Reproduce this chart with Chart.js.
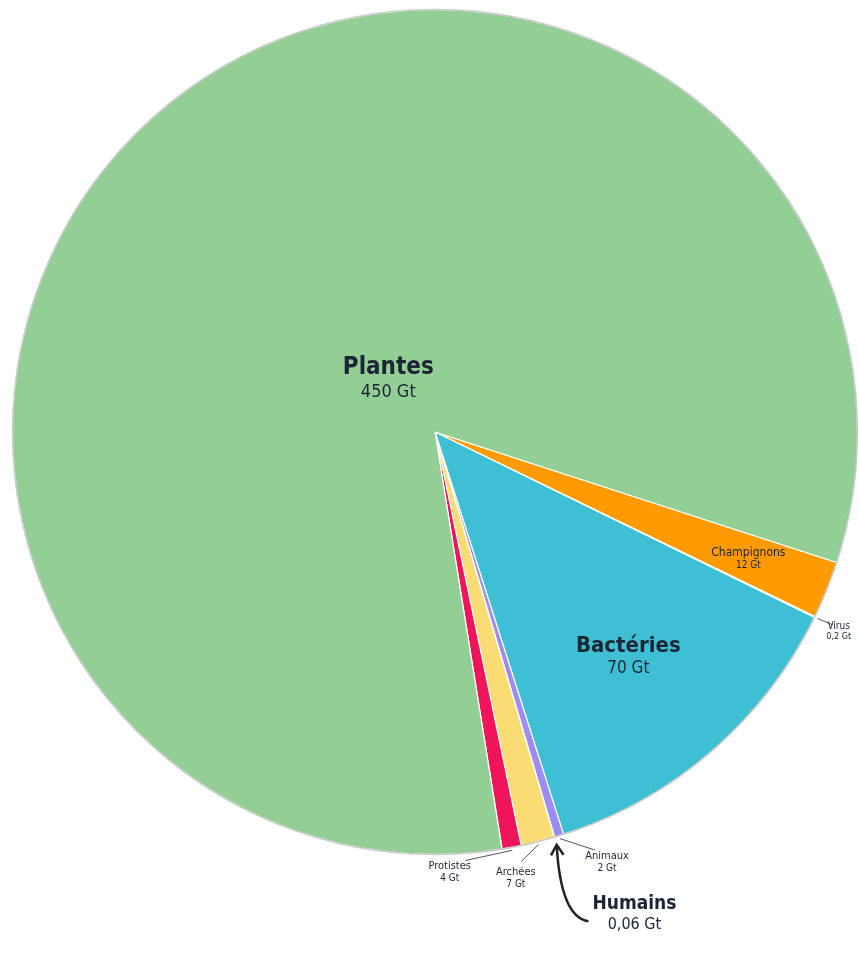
<!DOCTYPE html>
<html lang="fr">
<head>
<meta charset="utf-8">
<title>Biomasse sur Terre</title>
<script src="https://cdn.jsdelivr.net/npm/chart.js@4/dist/chart.umd.min.js"></script>
<style>
  body { margin: 0; background: #fff; }
  #wrap { width: 859px; height: 956px; position: relative; }
</style>
</head>
<body>
<div id="wrap"><canvas id="biomasse"></canvas></div>
<script>
// biomasse (gigatonnes de carbone), sens horaire
const categories = ['Champignons', 'Virus', 'Bactéries', 'Animaux', 'Humains', 'Archées', 'Protistes', 'Plantes'];
const biomassGt = [12, 0.2, 70, 1.94, 0.06, 7, 4, 450];   // Animaux hors humains = 2 - 0,06
const shownGt = [12, 0.2, 70, 2, 0.06, 7, 4, 450];
const colors = ['#ff9a00', '#f4f4d8', '#3ebfd4', '#9c8cf6', '#f0145a', '#f9dc72', '#f0145a', '#93cf95'];

const FONT = '"DejaVu Sans Condensed", "Liberation Sans Narrow", Roboto, sans-serif';
const INK = '#1b2535';

// how each label is placed
const labelStyle = {
  'Plantes':     { mode: 'in', r: 0.17, size: 24, sub: 18, weight: 'bold' },
  'Bactéries':   { mode: 'in', r: 0.7, size: 22, sub: 17, weight: 'bold' },
  'Champignons': { mode: 'in', r: 0.8, size: 12, sub: 10, weight: 'normal' },
  'Virus':       { mode: 'out', dx: 24, dy: 14, size: 10, sub: 9, weight: 'normal' },
  'Animaux':     { mode: 'out', dx: 48, dy: 26, size: 11, sub: 10, weight: 'normal' },
  'Archées':     { mode: 'out', dx: -22, dy: 36, size: 11, sub: 10, weight: 'normal' },
  'Protistes':   { mode: 'out', dx: -62, dy: 24, size: 11, sub: 10, weight: 'normal' },
  'Humains':     { mode: 'arrow', dx: 80, dy: 76, size: 19, sub: 16, weight: 'bold' }
};

function fmt(v) {
  return v.toLocaleString('fr-FR') + ' Gt';
}

function twoLines(ctx, x, y, name, value, st) {
  ctx.textAlign = 'center';
  ctx.textBaseline = 'middle';
  ctx.fillStyle = INK;
  ctx.font = st.weight + ' ' + st.size + 'px ' + FONT;
  ctx.fillText(name, x, y - st.sub * 0.55);
  ctx.font = st.sub + 'px ' + FONT;
  ctx.fillText(value, x, y + st.size * 0.6);
}

const labelPlugin = {
  id: 'biomassLabels',
  afterDatasetsDraw(chart) {
    const ctx = chart.ctx;
    const arcs = chart.getDatasetMeta(0).data;
    ctx.save();

    // outline of the disc
    const a0 = arcs[0];
    ctx.beginPath();
    ctx.arc(a0.x, a0.y, a0.outerRadius, 0, Math.PI * 2);
    ctx.strokeStyle = '#c9c9c9';
    ctx.lineWidth = 1.5;
    ctx.stroke();

    arcs.forEach((arc, i) => {
      const name = categories[i];
      const st = labelStyle[name];
      const mid = (arc.startAngle + arc.endAngle) / 2;
      const cx = arc.x, cy = arc.y, R = arc.outerRadius;
      const rimX = cx + Math.cos(mid) * R;
      const rimY = cy + Math.sin(mid) * R;
      const text = fmt(shownGt[i]);

      if (st.mode === 'in') {
        twoLines(ctx, cx + Math.cos(mid) * R * st.r, cy + Math.sin(mid) * R * st.r, name, text, st);
      } else if (st.mode === 'out') {
        const lx = rimX + st.dx, ly = rimY + st.dy;
        ctx.beginPath();
        ctx.moveTo(rimX + Math.cos(mid) * 3, rimY + Math.sin(mid) * 3);
        ctx.lineTo(lx - st.dx * 0.25, ly - st.dy * 0.45);
        ctx.strokeStyle = '#555';
        ctx.lineWidth = 1;
        ctx.stroke();
        twoLines(ctx, lx, ly, name, text, st);
      } else {
        // curved arrow for Humains
        const lx = rimX + st.dx, ly = rimY + st.dy;
        const ex = rimX + Math.cos(mid) * 8, ey = rimY + Math.sin(mid) * 8;
        const sx = lx - 46, sy = ly + 8;
        const qx = ex + 4, qy = sy - 4;
        ctx.beginPath();
        ctx.moveTo(sx, sy);
        ctx.quadraticCurveTo(qx, qy, ex, ey);
        ctx.strokeStyle = '#222';
        ctx.lineWidth = 2.5;
        ctx.stroke();
        const ang = Math.atan2(ey - qy, ex - qx);
        ctx.beginPath();
        ctx.moveTo(ex - Math.cos(ang - 0.55) * 12, ey - Math.sin(ang - 0.55) * 12);
        ctx.lineTo(ex, ey);
        ctx.lineTo(ex - Math.cos(ang + 0.55) * 12, ey - Math.sin(ang + 0.55) * 12);
        ctx.stroke();
        twoLines(ctx, lx, ly, name, text, st);
      }
    });
    ctx.restore();
  }
};

new Chart(document.getElementById('biomasse'), {
  type: 'pie',
  data: {
    labels: categories,
    datasets: [{
      data: biomassGt,
      backgroundColor: colors,
      borderColor: '#ffffff',
      borderWidth: 1.2,
      hoverOffset: 0
    }]
  },
  options: {
    responsive: true,
    maintainAspectRatio: false,
    animation: false,
    rotation: 108,
    layout: { padding: { left: 12, right: 1, top: 9, bottom: 101 } },
    plugins: {
      legend: { display: false },
      tooltip: { enabled: false }
    }
  },
  plugins: [labelPlugin]
});
</script>
</body>
</html>
